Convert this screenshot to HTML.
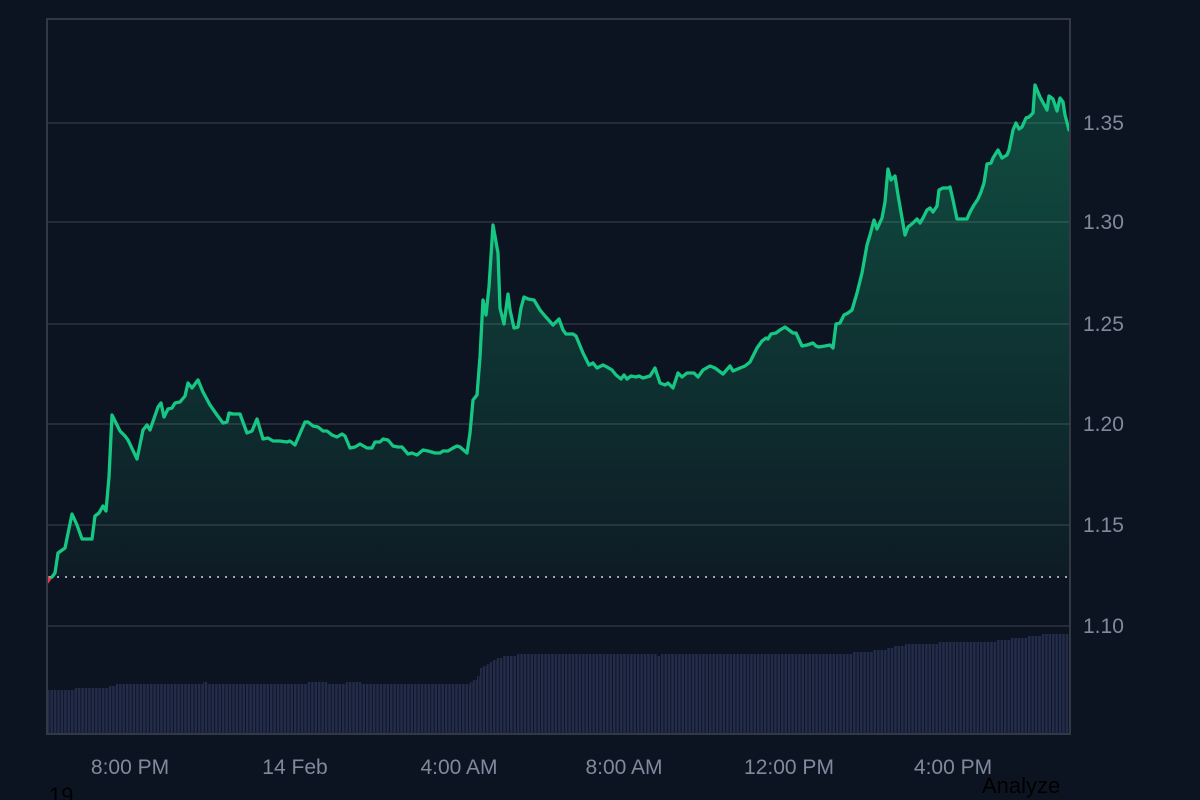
<!DOCTYPE html>
<html>
<head>
<meta charset="utf-8">
<style>
  html,body{margin:0;padding:0;background:#0d1421;}
  body{width:1200px;height:800px;overflow:hidden;position:relative;font-family:"Liberation Sans",Arial,sans-serif;}
  svg{position:absolute;left:0;top:0;}
</style>
</head>
<body>
<svg width="1200" height="800" viewBox="0 0 1200 800" xmlns="http://www.w3.org/2000/svg">
  <defs>
    <linearGradient id="fillg" gradientUnits="userSpaceOnUse" x1="0" y1="85" x2="0" y2="577">
      <stop offset="0" stop-color="#16c784" stop-opacity="0.33"/>
      <stop offset="1" stop-color="#16c784" stop-opacity="0.04"/>
    </linearGradient>
    <pattern id="bars" patternUnits="userSpaceOnUse" x="47" y="0" width="3.43" height="800">
      <rect x="0" y="0" width="2.5" height="800" fill="#232c4b"/>
    </pattern>
  </defs>

  <rect x="0" y="0" width="1200" height="800" fill="#0d1421"/>

  <!-- grid lines -->
  <g stroke="#262b38" stroke-width="2">
    <line x1="47" y1="123" x2="1070" y2="123"/>
    <line x1="47" y1="222" x2="1070" y2="222"/>
    <line x1="47" y1="324" x2="1070" y2="324"/>
    <line x1="47" y1="424" x2="1070" y2="424"/>
    <line x1="47" y1="525" x2="1070" y2="525"/>
    <line x1="47" y1="626" x2="1070" y2="626"/>
  </g>

  <!-- volume bars -->
  <polygon fill="url(#bars)" points="
    47,734 47,690 75,690 75,688 109,688 109,686 116,686 116,684 203,684 203,682 207,682 207,684
    308,684 308,682 327,682 327,684 346,684 346,682 361,682 361,684 470,684 470,682 473,682 473,680
    477,680 477,676 480,676 480,668 483,668 483,666 487,666 487,664 490,664 490,662 493,662 493,660
    497,660 497,658 503,658 503,656 517,656 517,654 657,654 657,656 660,656 660,654 853,654 853,652
    873,652 873,650 887,650 887,648 894,648 894,646 905,646 905,644 938,644 938,642 997,642 997,640
    1011,640 1011,638 1028,638 1028,636 1042,636 1042,634 1069,634 1069,734"/>

  <!-- area fill -->
  <polygon fill="url(#fillg)" points="52,577 55,573 58,553 65,548 72,514 77,525 82,539 92,539 95,516 99,513 103,506 106,511 109,477 112,415 120,431 125,436 128,440 137,459 143,430 147,425 150,430 158,407 161,403 164,417 168,409 172,408 175,403 180,402 185,396 188,383 192,388 198,380 203,392 210,405 217,415 223,423 227,422 229,413 233,414 240,414 247,433 252,431 257,419 263,439 268,438 273,441 280,441 287,442 290,441 295,445 298,438 305,422 308,422 313,426 318,427 323,431 327,431 332,435 337,437 342,434 345,436 350,448 355,447 360,444 367,448 372,448 375,442 380,442 383,439 388,440 393,446 398,447 402,447 408,454 412,453 417,455 423,450 428,451 435,453 440,453 443,451 448,451 453,448 457,446 460,447 467,453 470,433 473,400 477,395 480,357 483,300 486,315 489,287 493,225 498,253 500,308 504,324 508,294 510,310 514,328 518,327 521,308 524,297 528,299 534,300 540,310 545,316 553,325 559,319 563,330 566,334 573,334 576,336 583,353 589,365 593,363 597,368 603,365 607,367 612,370 616,375 621,379 624,375 627,379 631,376 636,377 639,376 643,378 650,376 655,368 660,383 665,385 668,383 673,388 678,373 682,377 687,373 694,373 698,377 703,370 710,366 715,368 723,374 730,366 733,371 740,368 745,366 750,362 757,348 762,341 766,338 768,339 771,334 776,333 780,330 785,327 789,330 793,333 796,333 802,346 807,345 813,343 816,346 819,347 825,346 830,345 833,348 836,324 840,323 844,315 848,313 852,310 857,293 862,273 867,245 870,235 874,220 877,229 882,218 885,202 888,169 891,180 895,176 898,195 905,235 908,227 913,223 917,219 920,223 923,218 927,210 930,208 933,212 937,206 939,190 943,188 948,188 950,187 953,200 957,219 963,219 967,219 970,212 974,205 978,199 981,192 984,183 987,164 991,163 993,158 998,150 1002,158 1007,155 1009,150 1013,130 1016,123 1019,129 1022,127 1026,118 1029,117 1033,113 1035,85 1040,97 1047,110 1049,96 1053,99 1057,111 1060,98 1063,102 1065,115 1069,130 1069,577"/>

  <!-- red start segment -->
  <polygon fill="#ea3943" points="47,576 54,576 47,585"/>

  <!-- baseline dotted -->
  <line x1="49" y1="577" x2="1068" y2="577" stroke="#a1a7bb" stroke-width="2" stroke-dasharray="2 6"/>

  <!-- price line -->
  <polyline fill="none" stroke="#16c784" stroke-width="3.3" stroke-linejoin="round" stroke-linecap="round" points="52,577 55,573 58,553 65,548 72,514 77,525 82,539 92,539 95,516 99,513 103,506 106,511 109,477 112,415 120,431 125,436 128,440 137,459 143,430 147,425 150,430 158,407 161,403 164,417 168,409 172,408 175,403 180,402 185,396 188,383 192,388 198,380 203,392 210,405 217,415 223,423 227,422 229,413 233,414 240,414 247,433 252,431 257,419 263,439 268,438 273,441 280,441 287,442 290,441 295,445 298,438 305,422 308,422 313,426 318,427 323,431 327,431 332,435 337,437 342,434 345,436 350,448 355,447 360,444 367,448 372,448 375,442 380,442 383,439 388,440 393,446 398,447 402,447 408,454 412,453 417,455 423,450 428,451 435,453 440,453 443,451 448,451 453,448 457,446 460,447 467,453 470,433 473,400 477,395 480,357 483,300 486,315 489,287 493,225 498,253 500,308 504,324 508,294 510,310 514,328 518,327 521,308 524,297 528,299 534,300 540,310 545,316 553,325 559,319 563,330 566,334 573,334 576,336 583,353 589,365 593,363 597,368 603,365 607,367 612,370 616,375 621,379 624,375 627,379 631,376 636,377 639,376 643,378 650,376 655,368 660,383 665,385 668,383 673,388 678,373 682,377 687,373 694,373 698,377 703,370 710,366 715,368 723,374 730,366 733,371 740,368 745,366 750,362 757,348 762,341 766,338 768,339 771,334 776,333 780,330 785,327 789,330 793,333 796,333 802,346 807,345 813,343 816,346 819,347 825,346 830,345 833,348 836,324 840,323 844,315 848,313 852,310 857,293 862,273 867,245 870,235 874,220 877,229 882,218 885,202 888,169 891,180 895,176 898,195 905,235 908,227 913,223 917,219 920,223 923,218 927,210 930,208 933,212 937,206 939,190 943,188 948,188 950,187 953,200 957,219 963,219 967,219 970,212 974,205 978,199 981,192 984,183 987,164 991,163 993,158 998,150 1002,158 1007,155 1009,150 1013,130 1016,123 1019,129 1022,127 1026,118 1029,117 1033,113 1035,85 1040,97 1047,110 1049,96 1053,99 1057,111 1060,98 1063,102 1065,115 1069,130"/>

  <!-- plot border -->
  <rect x="47" y="19" width="1023" height="715" fill="none" stroke="#333846" stroke-width="2"/>

  <!-- y-axis labels -->
  <g font-family="Liberation Sans, Arial, sans-serif" font-size="21" fill="#808a9d">
    <text x="1083" y="130">1.35</text>
    <text x="1083" y="229">1.30</text>
    <text x="1083" y="331">1.25</text>
    <text x="1083" y="431">1.20</text>
    <text x="1083" y="532">1.15</text>
    <text x="1083" y="633">1.10</text>
  </g>

  <!-- x-axis labels -->
  <g font-family="Liberation Sans, Arial, sans-serif" font-size="21" fill="#808a9d" text-anchor="middle">
    <text x="130" y="774">8:00 PM</text>
    <text x="295" y="774">14 Feb</text>
    <text x="459" y="774">4:00 AM</text>
    <text x="624" y="774">8:00 AM</text>
    <text x="789" y="774">12:00 PM</text>
    <text x="953" y="774">4:00 PM</text>
  </g>

  <!-- stray dark text -->
  <text x="49" y="803" font-family="Liberation Sans, Arial, sans-serif" font-size="22" fill="#000000">19</text>
  <text x="982" y="793" font-family="Liberation Sans, Arial, sans-serif" font-size="22" fill="#000000">Analyze</text>
</svg>
</body>
</html>
